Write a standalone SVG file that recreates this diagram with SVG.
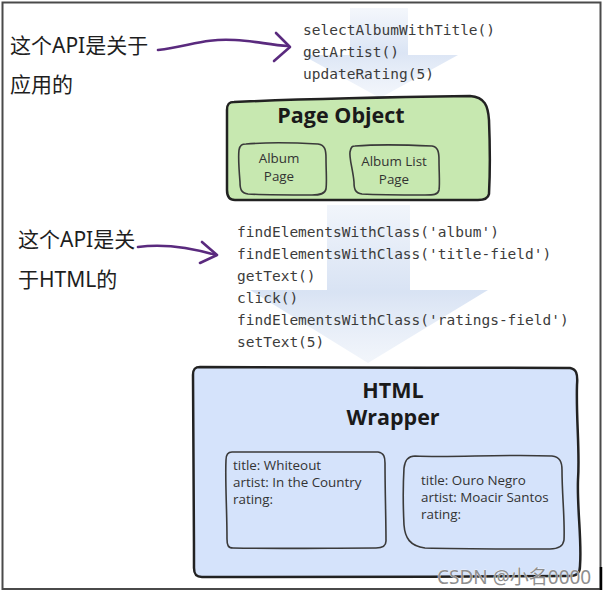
<svg xmlns="http://www.w3.org/2000/svg" width="609" height="594" viewBox="0 0 609 594">
  <defs>
    <linearGradient id="flow1" x1="0" y1="0" x2="0" y2="1">
      <stop offset="0" stop-color="#c8d7ef" stop-opacity="0.2"/>
      <stop offset="0.5" stop-color="#c8d7ef" stop-opacity="0.65"/>
      <stop offset="1" stop-color="#dde6f5" stop-opacity="0.35"/>
    </linearGradient>
    <linearGradient id="flow2" x1="0" y1="0" x2="0" y2="1">
      <stop offset="0" stop-color="#c8d7ef" stop-opacity="0.25"/>
      <stop offset="0.55" stop-color="#c8d7ef" stop-opacity="0.7"/>
      <stop offset="1" stop-color="#e2eaf6" stop-opacity="0.45"/>
    </linearGradient>
    <style>
      .cjk { font-family: "Noto Sans", "Noto Sans CJK SC", sans-serif; font-size: 21px; fill: #1e1e1e; }
      .code { font-family: "DejaVu Sans Mono", "Liberation Mono", monospace; font-size: 14.5px; fill: #3c3c3c; }
      .title { font-family: "Open Sans", "Noto Sans", sans-serif; font-size: 21.5px; font-weight: bold; fill: #1a1a1a; text-anchor: middle; }
      .small { font-family: "Open Sans", "Noto Sans", sans-serif; font-size: 13.4px; fill: #333; }
      .smallc { font-family: "Open Sans", "Noto Sans", sans-serif; font-size: 13.4px; fill: #333; text-anchor: middle; }
      .box { stroke: #222; stroke-width: 2.5; stroke-linejoin: round; }
      .inner { fill: none; stroke: #3a3a3a; stroke-width: 1.6; stroke-linejoin: round; }
      .purple { fill: none; stroke: #5a2a7e; stroke-width: 2.6; stroke-linecap: round; stroke-linejoin: round; }
    </style>
  </defs>

  <!-- outer frame -->
  <rect x="2.5" y="2.5" width="598" height="586.5" fill="#ffffff" stroke="#4a4a4a" stroke-width="2"/>
  <line x1="601" y1="567" x2="601" y2="590" stroke="#000" stroke-width="2.5"/>

  <!-- background flow arrows -->
  <g id="flow-arrows">
    <path d="M350,8 L408,8 L408,55 L458,55 L380,98 L302,55 L350,55 Z" fill="url(#flow1)"/>
    <path d="M327,205 L410,205 L410,290 L488,290 L368,363 L250,290 L327,290 Z" fill="url(#flow2)"/>
  </g>

  <!-- labels left -->
  <g id="label-app">
    <text class="cjk" x="10" y="53">这个API是关于</text>
    <text class="cjk" x="10" y="92">应用的</text>
  </g>
  <g id="label-html">
    <text class="cjk" x="18" y="247">这个API是关</text>
    <text class="cjk" x="18" y="287">于HTML的</text>
  </g>

  <!-- code lists -->
  <g id="app-api">
    <text class="code" x="303" y="35">selectAlbumWithTitle()</text>
    <text class="code" x="303" y="57">getArtist()</text>
    <text class="code" x="303" y="79">updateRating(5)</text>
  </g>
  <g id="html-api">
    <text class="code" x="237" y="237">findElementsWithClass('album')</text>
    <text class="code" x="237" y="259">findElementsWithClass('title-field')</text>
    <text class="code" x="237" y="281">getText()</text>
    <text class="code" x="237" y="303">click()</text>
    <text class="code" x="237" y="325">findElementsWithClass('ratings-field')</text>
    <text class="code" x="237" y="347">setText(5)</text>
  </g>

  <!-- connectors -->
  <g id="connectors">
    <path class="purple" d="M158,50 C190,46 205,38 235,40 C255,41 270,45 288,46"/>
    <path class="purple" d="M276,33 L290,47 L274,61"/>
    <path class="purple" d="M138,247 C160,244 185,246 216,255"/>
    <path class="purple" d="M202,242 L217,255 L200,263"/>
  </g>

  <!-- Page Object -->
  <g id="page-object">
    <path class="box" fill="#c7e8b0" d="M234,102 C300,99 400,97 470,96 C485,97 488,106 489,120 C490,145 490,175 489,194 C488,199 484,200 478,200 C400,200 300,200 235,200 C229,200 227,196 227,190 C227,160 227,130 227,110 C227,104 229,102 234,102 Z"/>
    <text class="title" x="341" y="123">Page Object</text>
    <path class="inner" d="M246,144 C270,142 300,143 318,144 C325,145 326,150 326,158 C326,170 327,182 326,189 C325,194 320,195 312,195 C290,195 265,195 248,194 C241,193 240,189 240,182 C239,170 238,158 239,150 C240,145 242,144 246,144 Z"/>
    <text class="smallc" x="279" y="163">Album</text>
    <text class="smallc" x="279" y="181">Page</text>
    <path class="inner" d="M355,146 C380,144 410,145 432,146 C438,147 439,152 439,160 C439,172 440,184 439,190 C438,195 433,195 425,195 C405,195 380,195 362,194 C355,193 354,189 354,182 C353,170 349,158 350,152 C351,147 352,146 355,146 Z"/>
    <text class="smallc" x="394" y="166">Album List</text>
    <text class="smallc" x="394" y="184">Page</text>
  </g>

  <!-- HTML Wrapper -->
  <g id="html-wrapper">
    <path class="box" fill="#d5e3fb" d="M200,367 C300,367 450,368 570,368 C576,369 578,373 577,385 C576,420 580,450 578,480 C577,510 582,540 580,566 C580,573 577,576 570,576 C450,577 300,577 202,577 C196,577 194,574 194,568 C194,500 193,430 193,375 C193,369 195,367 200,367 Z"/>
    <text class="title" x="393" y="398">HTML</text>
    <text class="title" x="393" y="425">Wrapper</text>
    <path class="inner" d="M232,452 C280,452 340,452 378,452 C384,453 385,457 385,463 C385,490 386,520 386,541 C386,546 382,548 376,548 C330,548 280,549 233,548 C228,548 227,545 227,539 C227,510 225,480 226,460 C226,454 228,452 232,452 Z"/>
    <text class="small" x="233" y="470">title: Whiteout</text>
    <text class="small" x="233" y="487">artist: In the Country</text>
    <text class="small" x="233" y="504">rating:</text>
    <path class="inner" d="M415,456 C450,458 500,454 552,456 C560,457 562,462 562,470 C562,495 565,520 564,540 C563,547 558,549 550,549 C510,549 460,549 425,548 C410,546 405,538 404,525 C403,505 403,485 404,468 C405,459 409,456 415,456 Z"/>
    <text class="small" x="421" y="485">title: Ouro Negro</text>
    <text class="small" x="421" y="502">artist: Moacir Santos</text>
    <text class="small" x="421" y="519">rating:</text>
  </g>

  <!-- watermark -->
  <text x="437" y="584" font-family="Noto Sans, Noto Sans CJK SC, sans-serif" font-size="19" fill="#8e8e8e" stroke="#ffffff" stroke-width="0.6" paint-order="stroke">CSDN @小名0000</text>
</svg>
